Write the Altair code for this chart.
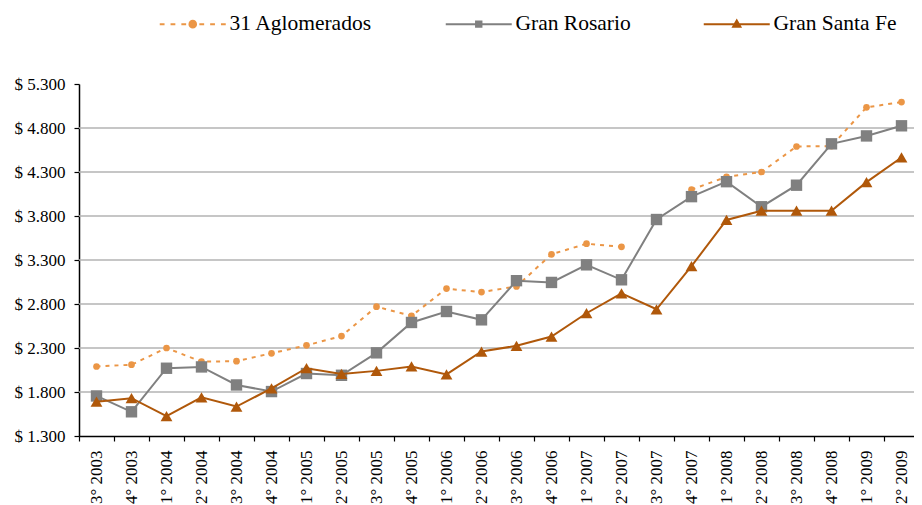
import altair as alt
import pandas as pd

periods = ["3° 2003", "4° 2003", "1° 2004", "2° 2004", "3° 2004", "4° 2004",
           "1° 2005", "2° 2005", "3° 2005", "4° 2005", "1° 2006", "2° 2006",
           "3° 2006", "4° 2006", "1° 2007", "2° 2007", "3° 2007", "4° 2007",
           "1° 2008", "2° 2008", "3° 2008", "4° 2008", "1° 2009", "2° 2009"]

aglomerados = [2090, 2110, 2300, 2145, 2150, 2240, 2330, 2435, 2770, 2665, 2975, 2935,
               3000, 3365, 3485, 3450, None, 4100, 4245, 4300, 4590, 4595, 5035, 5095]
rosario = [1755, 1575, 2070, 2085, 1880, 1805, 2010, 1990, 2245, 2590, 2715, 2620,
           3065, 3045, 3245, 3075, 3760, 4020, 4190, 3905, 4150, 4620, 4710, 4825]
santa_fe = [1690, 1730, 1525, 1740, 1635, 1840, 2070, 2005, 2040, 2090, 2000, 2260,
            2325, 2430, 2695, 2920, 2740, 3230, 3755, 3860, 3860, 3860, 4185, 4465]

series_names = ["31 Aglomerados", "Gran Rosario", "Gran Santa Fe"]
series_colors = ["#EB9646", "#808080", "#B0580A"]
y_ticks = [1300, 1800, 2300, 2800, 3300, 3800, 4300, 4800, 5300]
grid_values = [1800, 2300, 2800, 3300, 3800, 4300, 4800]

FONT = "Times New Roman"

# legend symbols: line sample with marker
legend_paths = [
    "M-5.5,0H-4.7M-3.7,0H-2.9M-1.9,0H-1.1M1.1,0H1.9M2.9,0H3.7M4.7,0H5.5"
    "M-0.55,0A0.55,0.55,0,1,1,0.55,0A0.55,0.55,0,1,1,-0.55,0Z",
    "M-5.5,0H5.5M-0.45,-0.45H0.45V0.45H-0.45Z",
    "M-5.5,0H5.5M0,-0.6L0.6,0.45H-0.6Z",
]

rows = []
for name, vals in zip(series_names, [aglomerados, rosario, santa_fe]):
    for p, v in zip(periods, vals):
        rows.append({"period": p, "series": name, "value": v})
df = pd.DataFrame(rows)

yscale = alt.Scale(domain=[1300, 5300], nice=False, zero=False)
xscale = alt.Scale(type="band", paddingInner=0, paddingOuter=0, range=[0, 840])

x_enc = alt.X("period:N", sort=periods, scale=xscale, bandPosition=0.5,
              axis=alt.Axis(title=None, labelAngle=-90, tickBand="extent", tickSize=5,
                            labelPadding=9, grid=False, labelFontSize=17))
y_axis = alt.Axis(title=None, values=y_ticks, grid=False, tickSize=5,
                  labelPadding=9, labelFontSize=17,
                  labelExpr="'$ ' + replace(format(datum.value, ',.0f'), ',', '.')")
y_enc = alt.Y("value:Q", scale=yscale, axis=y_axis)

grid = alt.Chart(pd.DataFrame({"value": grid_values})).mark_rule(
    color="#b3b3b3", strokeWidth=1.5
).encode(y=y_enc)

layers = [grid]
shapes = ["circle", "square", "triangle-up"]
sizes = [45, 130, 140]
for i, name in enumerate(series_names):
    base = alt.Chart(df).transform_filter(alt.datum.series == name)
    line_kwargs = dict(color=series_colors[i], strokeWidth=2)
    if i == 0:
        line_kwargs["strokeDash"] = [4, 5]
    layers.append(base.mark_line(**line_kwargs).encode(x=x_enc, y=y_enc))
    layers.append(base.mark_point(shape=shapes[i], filled=True, size=sizes[i],
                                  color=series_colors[i], opacity=1).encode(x=x_enc, y=y_enc))

leg = alt.Legend(title=None, orient="none", legendX=103, legendY=-71,
                 direction="horizontal", columns=3, columnPadding=68, labelOffset=26,
                 symbolSize=144, symbolStrokeWidth=2, labelFont=FONT,
                 labelFontSize=21.5, labelColor="black", padding=0, symbolOpacity=1)

legend_layer = alt.Chart(pd.DataFrame({"series": series_names})).transform_filter(
    "false"
).mark_point(filled=True, opacity=1, strokeWidth=2).encode(
    fill=alt.Fill("series:N", scale=alt.Scale(domain=series_names, range=series_colors), legend=leg),
    stroke=alt.Stroke("series:N", scale=alt.Scale(domain=series_names, range=series_colors), legend=leg),
    shape=alt.Shape("series:N", scale=alt.Scale(domain=series_names, range=legend_paths), legend=leg),
)
layers.append(legend_layer)

chart = alt.layer(*layers).properties(
    width=835, height=352,
    autosize=alt.AutoSizeParams(type="none"),
    padding={"left": 71, "top": 76, "right": 0, "bottom": 78},
).configure_view(
    stroke=None
).configure_axis(
    domainColor="black", domainWidth=1.5, tickColor="black", tickWidth=1.2,
    labelColor="black", labelFont=FONT
)

chart.save("out.html", embed_options={"renderer": "svg", "actions": False})
